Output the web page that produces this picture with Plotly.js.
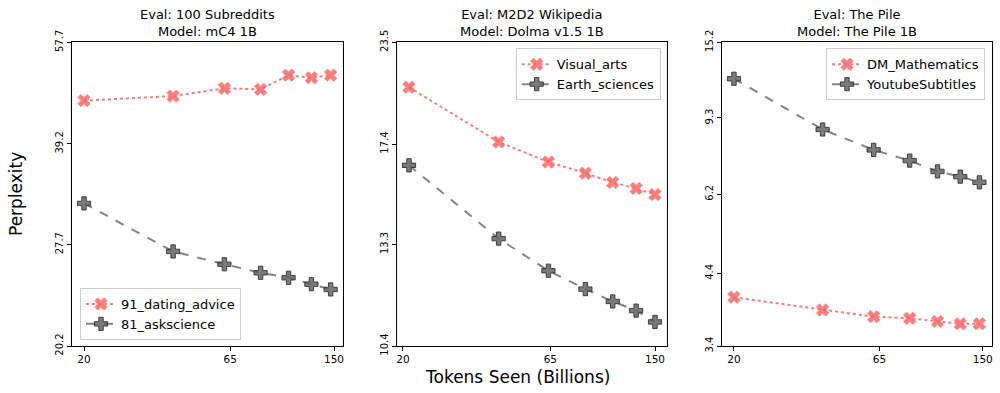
<!DOCTYPE html>
<html>
<head>
<meta charset="utf-8">
<script src="https://cdn.plot.ly/plotly-3.0.1.min.js"></script>
<style>html,body{margin:0;padding:0;background:#fff;}#chart{width:1000px;height:393px;}</style>
</head>
<body>
<div id="chart"></div>
<script>
// ---------- data (perplexity vs tokens seen, billions) ----------
const tokensA = [20, 41, 62, 83, 104, 125, 146];
const tokensB = [21, 43, 64, 86, 107, 129, 150];
const tokensC = [20, 41, 62, 83, 104, 125, 146];

const p1Names = ["91_dating_advice", "81_askscience"];
const p1Red  = [46.0, 46.8, 48.2, 48.0, 50.7, 50.2, 50.7];
const p1Gray = [31.8, 27.1, 26.0, 25.3, 24.9, 24.4, 24.0];

const p2Names = ["Visual_arts", "Earth_sciences"];
const p2Red  = [20.5, 17.5, 16.55, 16.05, 15.65, 15.4, 15.15];
const p2Gray = [16.4, 13.5, 12.45, 11.9, 11.55, 11.3, 11.0];

const p3Names = ["DM_Mathematics", "YoutubeSubtitles"];
const p3Red  = [4.02, 3.84, 3.75, 3.73, 3.69, 3.66, 3.66];
const p3Gray = [11.85, 8.7, 7.77, 7.34, 6.94, 6.76, 6.57];

const titles = [
  "Eval: 100 Subreddits<br>Model: mC4 1B",
  "Eval: M2D2 Wikipedia<br>Model: Dolma v1.5 1B",
  "Eval: The Pile<br>Model: The Pile 1B"
];
const yTicks1 = [20.2, 27.7, 39.2, 57.7];
const yTicks2 = [10.4, 13.3, 17.4, 23.5];
const yTicks3 = [3.4, 4.4, 6.2, 9.3, 15.2];
const xTicks = [20, 65, 150];
const xTitle = "Tokens Seen (Billions)";
const yTitle = "Perplexity";

// ---------- styling ----------
const FONT = "DejaVu Sans, sans-serif";
const RED = "rgba(248,100,100,0.85)";
const RED_FILL = "rgba(248,95,95,0.8)";
const GRAY = "rgba(90,90,90,0.75)";
const GRAY_FILL = "rgba(100,100,100,0.85)";

// y axis shows loss (log perplexity) on a log scale, labelled in perplexity
const ln = v => Math.log(v);

function redTrace(x, y, name, ax, lg) {
  return {
    x: x, y: y.map(ln), name: name, type: "scatter", mode: "lines+markers",
    xaxis: "x" + ax, yaxis: "y" + ax, legend: lg,
    line: {color: RED, dash: "dot", width: 2},
    marker: {symbol: "x", size: 11, color: RED_FILL, line: {color: "rgba(255,140,140,0.9)", width: 1}}
  };
}
function grayTrace(x, y, name, ax, lg) {
  return {
    x: x, y: y.map(ln), name: name, type: "scatter", mode: "lines+markers",
    xaxis: "x" + ax, yaxis: "y" + ax, legend: lg,
    line: {color: GRAY, dash: "dash", width: 2},
    marker: {symbol: "cross", size: 11, color: GRAY_FILL, line: {color: "rgba(50,50,50,0.9)", width: 1}}
  };
}

const data = [
  redTrace(tokensA, p1Red, p1Names[0], "", "legend"),
  grayTrace(tokensA, p1Gray, p1Names[1], "", "legend"),
  redTrace(tokensB, p2Red, p2Names[0], "2", "legend2"),
  grayTrace(tokensB, p2Gray, p2Names[1], "2", "legend2"),
  redTrace(tokensC, p3Red, p3Names[0], "3", "legend3"),
  grayTrace(tokensC, p3Gray, p3Names[1], "3", "legend3")
];

const xDomains = [[0.0717, 0.343], [0.3967, 0.6673], [0.7217, 0.9917]];
const yDomain = [1 - 346 / 393, 1 - 42.3 / 393];

function xRange(xs) {
  const a = Math.log10(xs[0]), b = Math.log10(xs[xs.length - 1]);
  const m = (b - a) * 0.05;
  return [a - m, b + m];
}
function xAxis(i, xs, anchor) {
  return {
    type: "log", domain: xDomains[i], anchor: anchor, range: xRange(xs),
    tickvals: xTicks, ticktext: xTicks.map(String),
    ticks: "outside", ticklen: 3.5, tickwidth: 1, tickcolor: "#000",
    showline: true, linecolor: "#000", linewidth: 1, mirror: true,
    showgrid: false, zeroline: false,
    tickfont: {family: FONT, size: 10.5, color: "#000"}
  };
}
function yAxis(ticks, anchor) {
  const tv = ticks.map(ln);
  return {
    type: "log", domain: yDomain, anchor: anchor,
    range: [Math.log10(tv[0]), Math.log10(tv[tv.length - 1])],
    tickvals: tv, ticktext: ticks.map(String), tickangle: -90,
    ticks: "outside", ticklen: 3.5, tickwidth: 1, tickcolor: "#000",
    showline: true, linecolor: "#000", linewidth: 1, mirror: true,
    showgrid: false, zeroline: false,
    tickfont: {family: FONT, size: 10, color: "#000"}
  };
}

const legendBase = {
  bgcolor: "rgba(255,255,255,0.8)", bordercolor: "#cccccc", borderwidth: 1,
  font: {family: FONT, size: 13, color: "#000"}, tracegroupgap: 0,
  itemwidth: 30
};

const annotations = titles.map((t, i) => ({
  text: t, xref: "paper", yref: "paper",
  x: (xDomains[i][0] + xDomains[i][1]) / 2, y: 1 - 5 / 393,
  xanchor: "center", yanchor: "top", showarrow: false,
  font: {family: FONT, size: 13, color: "#000"}
}));
annotations.push({
  text: xTitle, xref: "paper", yref: "paper", x: 517 / 1000, y: 1 - 365 / 393,
  xanchor: "center", yanchor: "top", showarrow: false,
  font: {family: FONT, size: 17, color: "#000"}
});
annotations.push({
  text: yTitle, xref: "paper", yref: "paper", x: 16 / 1000, y: 1 - 194 / 393,
  xanchor: "center", yanchor: "middle", showarrow: false, textangle: -90,
  font: {family: FONT, size: 17, color: "#000"}
});

const layout = {
  width: 1000, height: 393,
  margin: {l: 0, r: 0, t: 0, b: 0},
  paper_bgcolor: "#fff", plot_bgcolor: "#fff",
  showlegend: true,
  xaxis: xAxis(0, tokensA, "y"),
  yaxis: yAxis(yTicks1, "x"),
  xaxis2: xAxis(1, tokensB, "y2"),
  yaxis2: yAxis(yTicks2, "x2"),
  xaxis3: xAxis(2, tokensC, "y3"),
  yaxis3: yAxis(yTicks3, "x3"),
  legend: Object.assign({}, legendBase, {x: 0.08, y: 1 - 340 / 393, xanchor: "left", yanchor: "bottom"}),
  legend2: Object.assign({}, legendBase, {x: 0.6607, y: 1 - 48.3 / 393, xanchor: "right", yanchor: "top"}),
  legend3: Object.assign({}, legendBase, {x: 0.985, y: 1 - 48.3 / 393, xanchor: "right", yanchor: "top"}),
  annotations: annotations
};

Plotly.newPlot("chart", data, layout, {displayModeBar: false, staticPlot: true});
</script>
</body>
</html>
